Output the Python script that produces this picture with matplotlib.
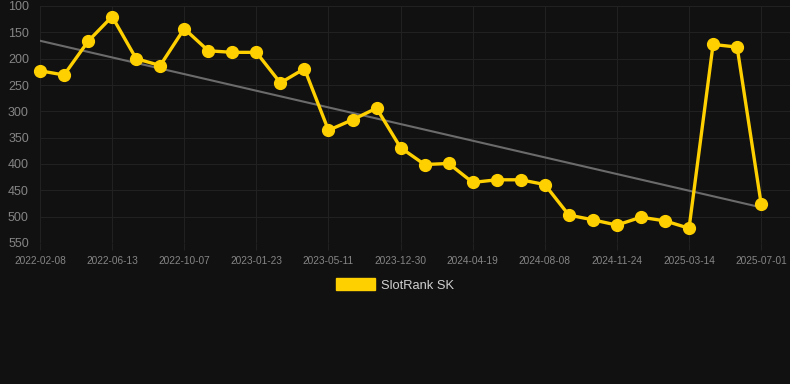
import matplotlib.pyplot as plt
import numpy as np

plt.rcParams['font.family'] = ['Liberation Sans', 'DejaVu Sans']

# tick labels (every third point carries a date)
tick_dates = ["2022-02-08", "2022-06-13", "2022-10-07", "2023-01-23", "2023-05-11",
              "2023-12-30", "2024-04-19", "2024-08-08", "2024-11-24", "2025-03-14",
              "2025-07-01"]

# rank values
ranks = [223, 231, 167, 120, 200, 213, 143, 185, 188, 188,
         246, 219, 336, 316, 294, 369, 401, 399, 435, 430,
         430, 439, 497, 506, 516, 501, 508, 522, 173, 178,
         476]

series_name = "SlotRank SK"

bg = "#111111"
yellow = "#ffd000"

fig = plt.figure(figsize=(7.9, 3.84), dpi=100, facecolor=bg)
ax = fig.add_axes([40 / 790, 141 / 384, 750 / 790, 237 / 384], facecolor=bg)

x = np.arange(len(ranks))

# linear trend over the series
slope, icpt = np.polyfit(x, ranks, 1)
ax.plot(x, slope * x + icpt, color="#6b6b6b", linewidth=1.5, zorder=2)

ax.plot(x, ranks, color=yellow, linewidth=2.4, marker="o", markersize=8.5,
        zorder=3, label=series_name, clip_on=False)

ax.set_xlim(0, 31.2)
ax.set_ylim(550, 100)
ax.set_yticks(np.arange(100, 551, 50))
ax.set_xticks(x[::3])
ax.set_xticklabels(tick_dates)

ax.grid(True, color="#212121", linewidth=0.8)
ax.set_axisbelow(True)
for s in ax.spines.values():
    s.set_visible(False)
ax.tick_params(axis="y", length=0, pad=8, labelsize=9, labelcolor="#858585")
ax.tick_params(axis="x", length=5, color="#212121", pad=4, labelsize=7.3,
               labelcolor="#858585")

leg = fig.legend(handles=[plt.Rectangle((0, 0), 1, 1, color=yellow)],
                 labels=[series_name], loc="center", bbox_to_anchor=(0.5, 1 - 285 / 384),
                 frameon=False, fontsize=9.3, handlelength=3.0, handleheight=1.0,
                 handletextpad=0.5, labelcolor="#d0d0d0")

fig.savefig("out.png", dpi=100, facecolor=bg)
